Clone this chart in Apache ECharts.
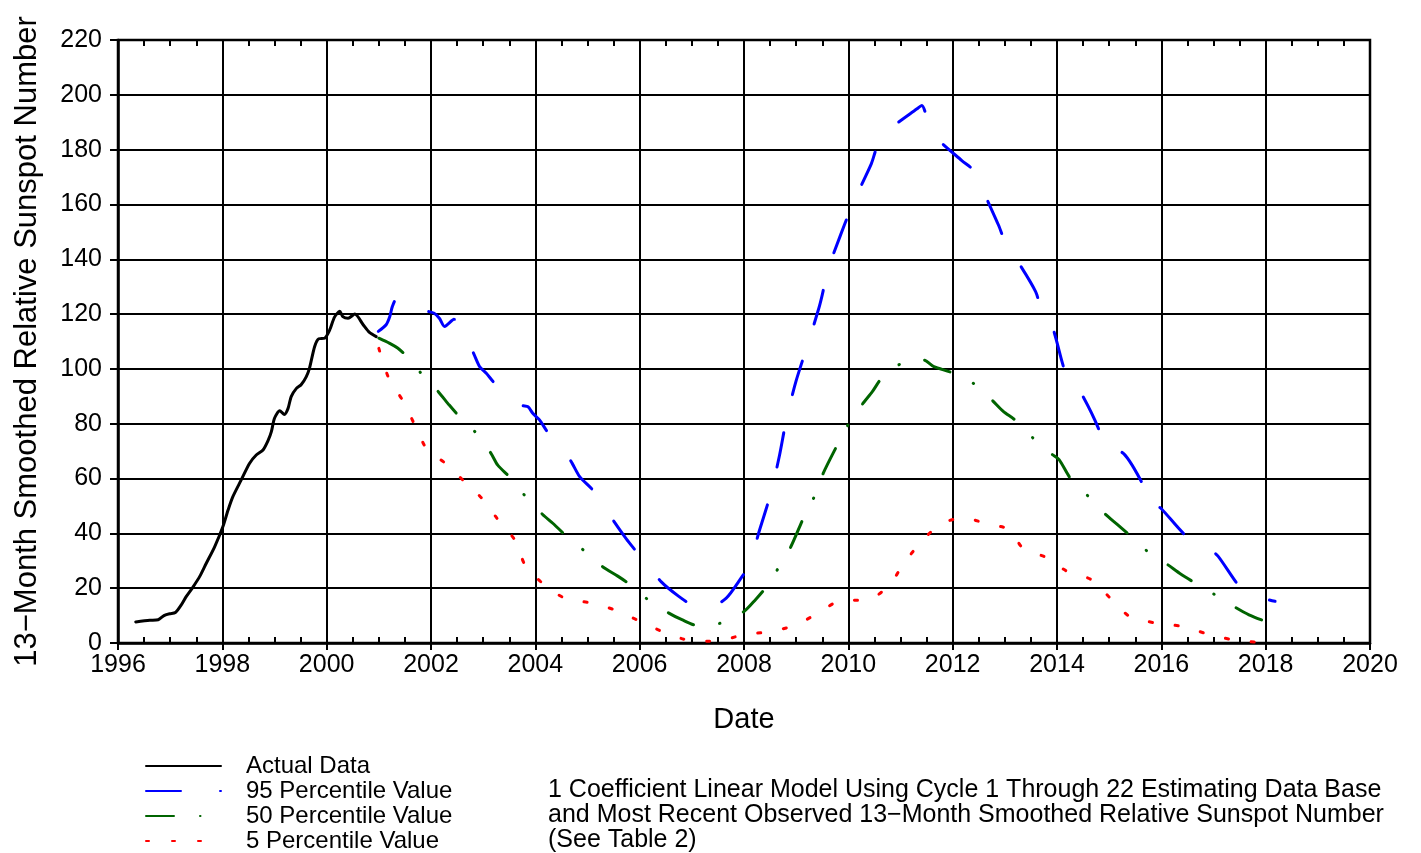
<!DOCTYPE html>
<html>
<head>
<meta charset="utf-8">
<script src="https://cdn.jsdelivr.net/npm/echarts@6/dist/echarts.min.js"></script>
<style>
  html, body { margin: 0; padding: 0; background: #fff; }
  #chart { width: 1421px; height: 853px; }
</style>
</head>
<body>
<div id="chart"></div>
<script>
// 13-month smoothed sunspot number, observed + predicted percentiles

const actualYears = [1996.34, 1996.61, 1996.77, 1996.89, 1996.99, 1997.1, 1997.21, 1997.31, 1997.44, 1997.57,
  1997.69, 1997.85, 1998.01, 1998.11, 1998.2, 1998.36, 1998.52, 1998.65, 1998.78, 1998.88,
  1998.94, 1999.0, 1999.1, 1999.19, 1999.26, 1999.32, 1999.42, 1999.51, 1999.61, 1999.67,
  1999.77, 1999.85, 1999.96, 2000.06, 2000.15, 2000.25, 2000.31, 2000.41, 2000.54, 2000.7,
  2000.82, 2000.95];
const actualValues = [7.7, 8.3, 8.5, 10.1, 10.7, 11.1, 13.8, 17, 20.5, 24.4,
  29, 35, 42.4, 48.5, 53.3, 59.4, 65.5, 68.6, 70.4, 74,
  77.1, 82, 84.7, 83.4, 85.6, 89.9, 92.9, 94.2, 97.2, 100.2,
  108.2, 111, 111.2, 114.3, 118.9, 121, 119.1, 118.5, 120, 116.1,
  113.3, 111.8];

const p95Years = [2000.99, 2001.14, 2001.21, 2001.26, 2001.35, 2001.89, 2002.06, 2002.16, 2002.26, 2002.44,
  2002.8, 2002.93, 2003.06, 2003.22, 2003.73, 2003.86, 2003.95, 2004.08, 2004.23, 2004.67,
  2004.85, 2005.12, 2005.52, 2005.74, 2005.97, 2006.42, 2006.75, 2007.02, 2007.3, 2007.66,
  2007.9, 2008.09, 2008.3, 2008.42, 2008.52, 2008.68, 2008.82, 2009.0, 2009.23, 2009.44,
  2009.5, 2009.61, 2009.85, 2010.01, 2010.13, 2010.44, 2010.55, 2010.65, 2010.78, 2011.31,
  2011.41, 2011.51, 2011.64, 2012.17, 2012.4, 2012.5, 2012.58, 2012.88, 2013.01, 2013.1,
  2013.22, 2013.59, 2013.72, 2013.9, 2014.1, 2014.23, 2014.36, 2014.47, 2014.79, 2014.9,
  2015.0, 2015.24, 2015.62, 2015.76, 2015.85, 2015.91, 2016.0, 2016.47, 2016.72, 2016.91,
  2017.09, 2017.51, 2017.68, 2017.84, 2018.0, 2018.18];
const p95Values = [113.7, 116.1, 119.1, 122.8, 125.8, 121.3, 120.3, 118.5, 115.5, 118.1,
  106.3, 100.9, 98.4, 94.8, 86.8, 86.2, 83.8, 81.4, 77.1, 66.7,
  60.7, 55.4, 44, 38.1, 32.6, 22.2, 17, 13.7, 12.5, 16.4,
  22.5, 28.2, 41.3, 48.6, 55, 68.4, 82.3, 95.7, 109.4, 122.5,
  127, 136.3, 148.8, 156.7, 162.2, 174.8, 181.1, 183.7, 187.3, 194.8,
  196.1, 191.5, 185.3, 176.1, 172.6, 169.3, 165.2, 152.4, 145.9, 142.6,
  140, 128.2, 120.4, 115.9, 102.4, 94.3, 92.7, 90.9, 78.5, 71.2,
  70, 69.6, 58.8, 51.1, 48.7, 49.9, 49, 39.2, 37.7, 34.7,
  31.6, 20.3, 18.9, 18.2, 16.1, 15.2];

const p50Years = [2001.0, 2001.2, 2001.36, 2001.51, 2001.81, 2002.14, 2002.35, 2002.53, 2002.86, 2003.15,
  2003.28, 2003.52, 2003.82, 2004.14, 2004.34, 2004.59, 2004.94, 2005.29, 2005.58, 2005.81,
  2006.16, 2006.56, 2006.81, 2007.1, 2007.56, 2008.0, 2008.22, 2008.4, 2008.67, 2008.9,
  2009.14, 2009.35, 2009.52, 2009.79, 2010.01, 2010.28, 2010.46, 2010.65, 2011.0, 2011.45,
  2011.64, 2011.99, 2012.4, 2012.75, 2012.97, 2013.2, 2013.54, 2013.9, 2014.04, 2014.26,
  2014.6, 2014.92, 2015.16, 2015.38, 2015.73, 2016.12, 2016.37, 2016.63, 2017.03, 2017.42,
  2017.68, 2017.99];
const p50Values = [111.2, 109.4, 107.6, 105.1, 98.4, 91.7, 86.8, 82.9, 76.7, 69.2,
  64.9, 60.3, 53.3, 46.9, 43.6, 39.1, 33.6, 27.8, 24.4, 21.4,
  15.8, 10.9, 8.5, 6.4, 7.3, 11.5, 15.8, 19.8, 27.7, 35.2,
  45.6, 53.5, 62, 72.3, 80.1, 87.4, 91.7, 96.9, 101.8, 103.2,
  100.8, 98.6, 94.7, 88.7, 84.5, 81.3, 74.8, 68.9, 66.9, 60,
  53.5, 47.1, 43.2, 39.5, 33.5, 28.6, 25.2, 22.1, 17.6, 13,
  10.3, 7.9];

const p5Years = [2001.0, 2001.19, 2001.46, 2001.69, 2001.92, 2002.3, 2002.63, 2002.98, 2003.28, 2003.61,
  2003.8, 2004.16, 2004.58, 2005.07, 2005.55, 2006.02, 2006.47, 2006.96, 2007.47, 2007.98,
  2008.48, 2008.97, 2009.42, 2009.86, 2010.36, 2010.78, 2011.06, 2011.38, 2011.75, 2012.2,
  2012.67, 2013.07, 2013.36, 2013.77, 2014.19, 2014.66, 2015.02, 2015.39, 2015.89, 2016.38,
  2016.87, 2017.36, 2017.87];
const p5Values = [107.5, 96.6, 88.4, 79.5, 70.8, 65.2, 59.1, 52.7, 45.1, 37.5,
  28.6, 21.4, 16.2, 14.6, 11.9, 7.8, 3.9, 0.9, 0.6, 3,
  4.1, 6.4, 10.9, 15.5, 15.7, 20.9, 29, 36.5, 43.2, 45.7,
  43.4, 41.5, 34.3, 31.4, 26.2, 23.1, 16.4, 9.7, 7.3, 6.1,
  3.4, 1.2, 0.2];

const seriesNames = ['Actual Data', '95 Percentile Value', '50 Percentile Value', '5 Percentile Value'];
const noteLines = [
  '1 Coefficient Linear Model Using Cycle 1 Through 22 Estimating Data Base',
  'and Most Recent Observed 13\u2212Month Smoothed Relative Sunspot Number',
  '(See Table 2)'
];

const zip = (xs, ys) => xs.map((x, i) => [x, ys[i]]);
const FONT = '"Liberation Sans", Arial, Helvetica, sans-serif';

const chart = echarts.init(document.getElementById('chart'), null, { renderer: 'canvas' });

const lineSeries = (name, xs, ys, color, dash) => ({
  name,
  type: 'line',
  data: zip(xs, ys),
  showSymbol: false,
  symbol: 'none',
  smooth: 0.25,
  clip: true,
  lineStyle: { color, width: 3, type: dash, cap: 'round', join: 'round' },
  itemStyle: { color },
});

const minorAxis = (position) => ({
  type: 'value', min: 1996, max: 2020, interval: 2, position,
  axisLine: { show: false }, axisLabel: { show: false }, splitLine: { show: false },
  axisTick: { show: false, inside: true },
  minorTick: { show: true, splitNumber: 4, length: 6, lineStyle: { color: '#000', width: 2 } },
});

const option = {
  animation: false,
  backgroundColor: '#fff',
  grid: {
    left: 118, right: 51, top: 40, bottom: 210,
    show: true, borderColor: '#000', borderWidth: 2.5, backgroundColor: 'transparent',
  },
  xAxis: [
    {
      type: 'value', min: 1996, max: 2020, interval: 2,
      name: 'Date', nameLocation: 'middle', nameGap: 62,
      nameTextStyle: { fontFamily: FONT, fontSize: 29, color: '#000' },
      axisLine: { show: true, lineStyle: { color: '#000', width: 2.5 } },
      axisTick: { show: true, inside: false, length: 7, lineStyle: { color: '#000', width: 2 } },
      axisLabel: { color: '#000', fontFamily: FONT, fontSize: 25, margin: 10, formatter: (v) => String(v) },
      splitLine: { show: true, lineStyle: { color: '#000', width: 2 } },
    },
    minorAxis('bottom'),
    minorAxis('top'),
  ],
  yAxis: {
    type: 'value', min: 0, max: 220, interval: 20,
    name: '13\u2212Month Smoothed Relative Sunspot Number',
    nameLocation: 'middle', nameGap: 75, nameRotate: 90,
    nameTextStyle: { fontFamily: FONT, fontSize: 31, color: '#000' },
    axisLine: { show: true, lineStyle: { color: '#000', width: 2.5 } },
    axisTick: { show: true, inside: false, length: 8, lineStyle: { color: '#000', width: 2 } },
    axisLabel: { color: '#000', fontFamily: FONT, fontSize: 25, margin: 16 },
    splitLine: { show: true, lineStyle: { color: '#000', width: 2 } },
  },
  legend: {
    data: seriesNames,
    orient: 'vertical',
    left: 145, top: 754, padding: 0,
    itemWidth: 75, itemHeight: 12, itemGap: 1,
    selectedMode: false,
    itemStyle: { color: 'transparent', borderWidth: 0, opacity: 0 },
    textStyle: { fontFamily: FONT, fontSize: 24, color: '#000', lineHeight: 24, padding: [0, 0, 0, 20] },
  },
  graphic: [
    {
      type: 'text', left: 548, top: 778,
      style: { text: noteLines.join('\n'), font: '25px ' + FONT, lineHeight: 25, fill: '#000' },
    },
  ],
  series: [
    lineSeries(seriesNames[0], actualYears, actualValues, '#000000', 'solid'),
    lineSeries(seriesNames[1], p95Years, p95Values, '#0000ff', [35, 39]),
    lineSeries(seriesNames[2], p50Years, p50Values, '#006400', [28, 26, 0.5, 26]),
    lineSeries(seriesNames[3], p5Years, p5Values, '#ff0000', [3, 23]),
  ],
};

chart.setOption(option);
</script>
</body>
</html>
